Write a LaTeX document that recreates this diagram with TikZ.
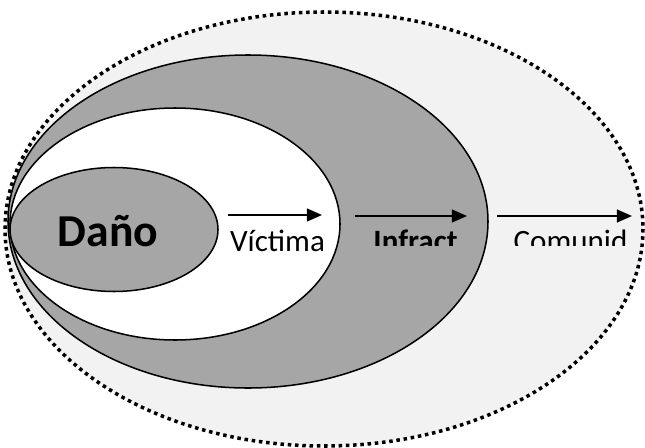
\documentclass[tikz,border=0pt]{standalone}
\usepackage{fontspec}
\setmainfont{Carlito}
\usetikzlibrary{arrows.meta}
\definecolor{ringgray}{RGB}{166,166,166}
\definecolor{paleback}{RGB}{242,242,242}
\tikzset{
	ring/.style={draw=black, line width=1.3pt},
	flow/.style={line width=1.7pt, -{Triangle[length=13pt, width=11pt]}},
	lbl/.style={inner sep=0pt, anchor=base, font=\fontsize{26.5}{30}\selectfont}
}

\begin{document}
\begin{tikzpicture}[x=0.03cm, y=-0.03cm]
			%%%%% START %%%%%
			\useasboundingbox (0, 0) rectangle (645, 447);
			
			\fill[paleback] (324, 229) ellipse [x radius=319, y radius=217];
			\draw[line width=3pt, dash pattern=on 3pt off 3.2pt] (324, 229) ellipse [x radius=319, y radius=217];
			
			\draw[ring, fill=ringgray] (248, 221.5) ellipse [x radius=240, y radius=166.5];
			\draw[ring, fill=white] (175, 224) ellipse [x radius=165, y radius=116];
			\draw[ring, fill=ringgray] (114, 229.5) ellipse [x radius=104, y radius=62];
			
			\node[lbl, font=\fontsize{39}{44}\selectfont\bfseries] (dano) at (108, 246) {Daño};
			\node[lbl] (victima) at (277.5, 251) {Víctima};
			
			\begin{scope}
				\clip (340, 220) rectangle (645, 245);
				\node[lbl, font=\fontsize{26.5}{30}\selectfont\bfseries] (infractor) at (415.5, 251) {Infract};
				\node[lbl] (comunidad) at (570.5, 251) {Comunid};
			\end{scope}
			
			\coordinate (a1) at (228, 215);
			\coordinate (b1) at (322, 215);
			\coordinate (a2) at (355, 216);
			\coordinate (b2) at (467, 216);
			\coordinate (a3) at (497, 216);
			\coordinate (b3) at (632, 216);
			
			\draw[flow] (a1) -- (b1);
			\draw[flow] (a2) -- (b2);
			\draw[flow] (a3) -- (b3);
			%%%%% END %%%%%
\end{tikzpicture}
\end{document}
